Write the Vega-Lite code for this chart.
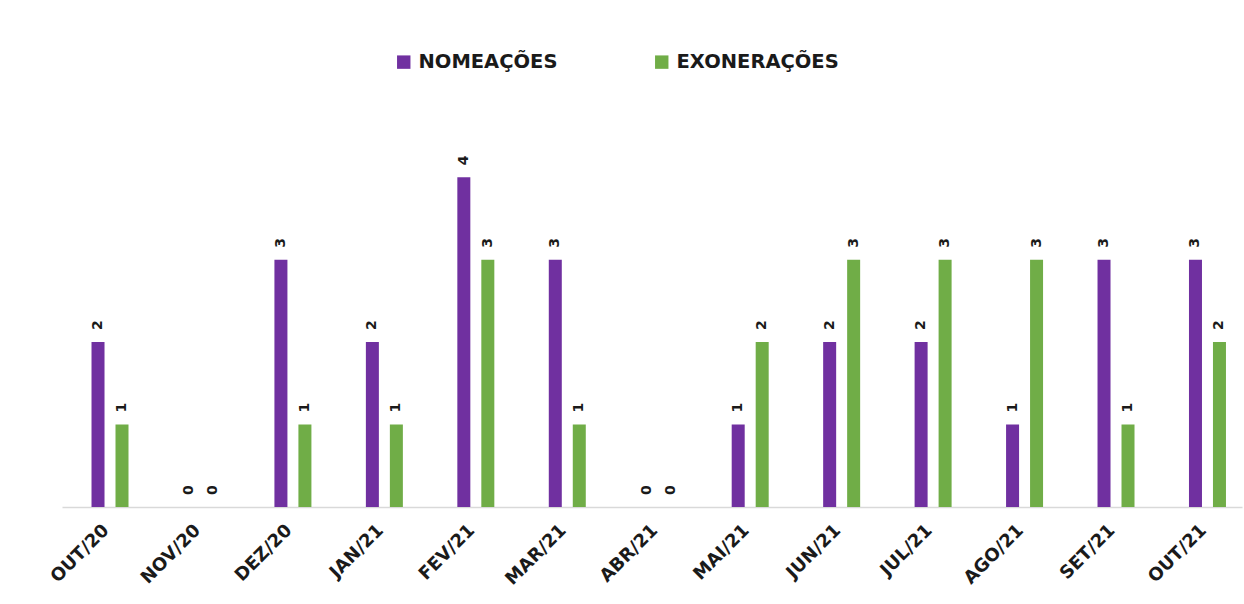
{
  "$schema": "https://vega.github.io/schema/vega-lite/v6.json",
  "autosize": "none",
  "width": 1180,
  "height": 371,
  "padding": {"left": 62, "top": 136, "right": 2, "bottom": 97},
  "background": "white",
  "config": {"view": {"stroke": null}, "font": "DejaVu Sans"},
  "data": {"values": [
    {"mes": "OUT/20", "serie": "NOMEAÇÕES", "valor": 2},
    {"mes": "OUT/20", "serie": "EXONERAÇÕES", "valor": 1},
    {"mes": "NOV/20", "serie": "NOMEAÇÕES", "valor": 0},
    {"mes": "NOV/20", "serie": "EXONERAÇÕES", "valor": 0},
    {"mes": "DEZ/20", "serie": "NOMEAÇÕES", "valor": 3},
    {"mes": "DEZ/20", "serie": "EXONERAÇÕES", "valor": 1},
    {"mes": "JAN/21", "serie": "NOMEAÇÕES", "valor": 2},
    {"mes": "JAN/21", "serie": "EXONERAÇÕES", "valor": 1},
    {"mes": "FEV/21", "serie": "NOMEAÇÕES", "valor": 4},
    {"mes": "FEV/21", "serie": "EXONERAÇÕES", "valor": 3},
    {"mes": "MAR/21", "serie": "NOMEAÇÕES", "valor": 3},
    {"mes": "MAR/21", "serie": "EXONERAÇÕES", "valor": 1},
    {"mes": "ABR/21", "serie": "NOMEAÇÕES", "valor": 0},
    {"mes": "ABR/21", "serie": "EXONERAÇÕES", "valor": 0},
    {"mes": "MAI/21", "serie": "NOMEAÇÕES", "valor": 1},
    {"mes": "MAI/21", "serie": "EXONERAÇÕES", "valor": 2},
    {"mes": "JUN/21", "serie": "NOMEAÇÕES", "valor": 2},
    {"mes": "JUN/21", "serie": "EXONERAÇÕES", "valor": 3},
    {"mes": "JUL/21", "serie": "NOMEAÇÕES", "valor": 2},
    {"mes": "JUL/21", "serie": "EXONERAÇÕES", "valor": 3},
    {"mes": "AGO/21", "serie": "NOMEAÇÕES", "valor": 1},
    {"mes": "AGO/21", "serie": "EXONERAÇÕES", "valor": 3},
    {"mes": "SET/21", "serie": "NOMEAÇÕES", "valor": 3},
    {"mes": "SET/21", "serie": "EXONERAÇÕES", "valor": 1},
    {"mes": "OUT/21", "serie": "NOMEAÇÕES", "valor": 3},
    {"mes": "OUT/21", "serie": "EXONERAÇÕES", "valor": 2}
  ]},
  "encoding": {
    "x": {
      "field": "mes", "type": "nominal", "sort": null,
      "scale": {"paddingInner": 0.5955, "paddingOuter": 0.249, "align": 0.648},
      "axis": {
        "title": null, "ticks": false, "domainColor": "#d9d9d9", "domainWidth": 1.5,
        "labelAngle": -45, "labelFont": "DejaVu Sans", "labelFontWeight": "bold",
        "labelFontSize": 18, "labelColor": "#1a1a1a", "labelPadding": 14,
        "labelOffset": -10, "labelLimit": 0
      }
    },
    "xOffset": {
      "field": "serie", "type": "nominal", "sort": ["NOMEAÇÕES", "EXONERAÇÕES"],
      "scale": {"paddingInner": 0.458, "paddingOuter": 0}
    },
    "y": {
      "field": "valor", "type": "quantitative",
      "scale": {"domain": [0, 4.5], "nice": false},
      "axis": null
    }
  },
  "layer": [
    {
      "mark": {"type": "bar"},
      "encoding": {
        "color": {
          "field": "serie", "type": "nominal", "sort": ["NOMEAÇÕES", "EXONERAÇÕES"],
          "scale": {"domain": ["NOMEAÇÕES", "EXONERAÇÕES"], "range": ["#7030A0", "#70AD47"]},
          "legend": {
            "title": null, "orient": "none", "direction": "horizontal",
            "legendX": 332, "legendY": -84,
            "symbolType": "square", "symbolSize": 180, "symbolStrokeWidth": 0,
            "labelFont": "DejaVu Sans", "labelFontWeight": "bold", "labelFontSize": 19.5,
            "labelColor": "#1a1a1a", "columnPadding": 94, "labelOffset": 5,
            "labelLimit": 0
          }
        }
      }
    },
    {
      "mark": {"type": "text", "angle": 270, "align": "left", "baseline": "middle", "dx": 12,
               "font": "DejaVu Sans", "fontWeight": "bold", "fontSize": 14, "color": "#1a1a1a"},
      "encoding": {"text": {"field": "valor", "type": "quantitative"}}
    }
  ]
}
